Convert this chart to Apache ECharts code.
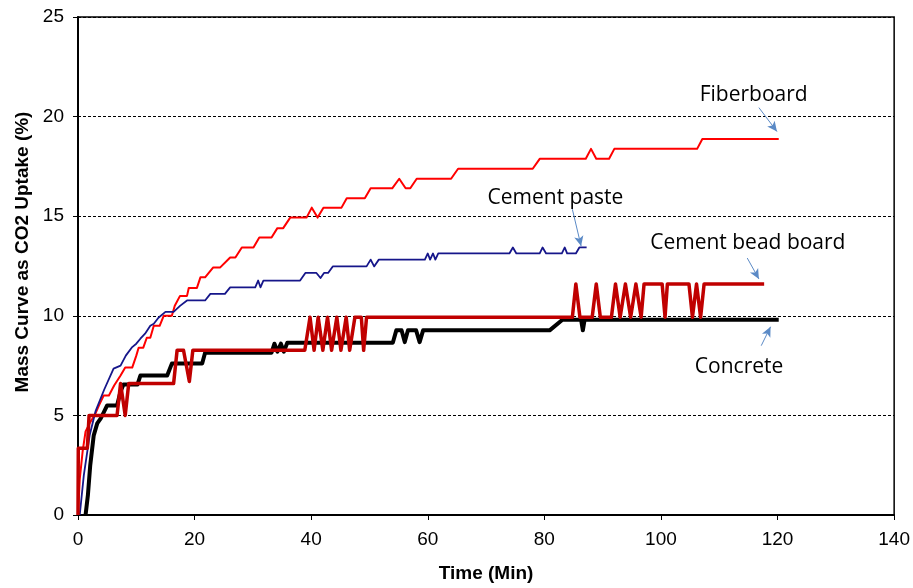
<!DOCTYPE html>
<html>
<head>
<meta charset="utf-8">
<script src="https://cdn.jsdelivr.net/npm/echarts@6/dist/echarts.min.js"></script>
<style>
  html, body { margin: 0; padding: 0; background: #fff; }
  #chart { width: 913px; height: 588px; }
</style>
</head>
<body>
<div id="chart"></div>
<script>
// [time (min), mass uptake (%)]
const fiberboard = [
  [0, 0], [0.3, 1.8], [0.8, 3.2], [1.3, 4.2], [2.0, 4.6], [3.0, 5.1], [3.6, 5.5], [4.4, 6.0], [5.3, 6.0],
  [6.2, 6.5], [7.3, 7.0], [8.1, 7.4], [9.3, 7.4], [10.0, 8.0], [10.4, 8.4], [11.2, 8.4], [11.8, 8.9],
  [12.4, 8.9], [13.0, 9.5], [14.0, 9.5], [14.7, 10.0], [16.1, 10.0], [16.6, 10.5], [17.5, 11.0],
  [18.7, 11.0], [19.0, 11.4], [20.4, 11.4], [21.0, 11.93], [21.8, 11.93], [23.2, 12.43], [24.4, 12.43],
  [26.1, 12.93], [27.0, 12.93], [28.1, 13.43], [30.1, 13.43], [31.1, 13.93], [33.2, 13.93], [34.2, 14.4],
  [35.2, 14.4], [36.4, 14.93], [39.2, 14.93], [40.1, 15.43], [41.1, 14.93], [42.1, 15.43], [45.2, 15.43],
  [46.1, 15.9], [49.2, 15.9], [50.2, 16.4], [53.9, 16.4], [55.1, 16.88], [56.2, 16.4], [57.0, 16.4],
  [58.1, 16.88], [64.0, 16.88], [65.2, 17.38], [78.0, 17.38], [79.2, 17.88], [87.1, 17.88], [88.0, 18.38],
  [88.9, 17.88], [91.1, 17.88], [92.0, 18.38], [106.2, 18.38], [107.1, 18.88], [120.2, 18.88]
];
const cementPaste = [
  [0.3, 0], [1.0, 2.0], [2.0, 4.0], [3.0, 5.2], [4.5, 6.3], [6.1, 7.35], [7.3, 7.5], [8.2, 8.0], [9.3, 8.43],
  [10.0, 8.6], [10.7, 8.85], [11.5, 9.1], [12.4, 9.5], [13.0, 9.6], [13.8, 9.9], [15.0, 10.2], [16.4, 10.2],
  [17.5, 10.5], [18.7, 10.77], [21.8, 10.77], [22.7, 11.1], [25.2, 11.1], [26.1, 11.43], [30.4, 11.43],
  [30.9, 11.77], [31.3, 11.43], [31.8, 11.77], [38.1, 11.77], [39.0, 12.15], [40.9, 12.15], [41.6, 11.9],
  [42.2, 12.15], [42.9, 12.15], [43.7, 12.48], [49.5, 12.48], [50.2, 12.82], [50.8, 12.48], [51.6, 12.82],
  [59.5, 12.82], [60.0, 13.13], [60.4, 12.82], [60.9, 13.13], [61.3, 12.82], [61.8, 13.13], [74.0, 13.13],
  [74.6, 13.43], [75.2, 13.13], [79.2, 13.13], [79.7, 13.43], [80.3, 13.13], [83.0, 13.13], [83.5, 13.43],
  [83.9, 13.13], [85.4, 13.13], [86.0, 13.43], [87.25, 13.43]
];
const cementBeadBoard = [
  [0, 0], [0.05, 3.35], [1.6, 3.35], [1.9, 5.0], [6.7, 5.0], [7.3, 6.6], [8.1, 5.0], [8.7, 6.6], [16.4, 6.6],
  [17.0, 8.27], [18.1, 8.27], [19.1, 6.7], [19.7, 8.27], [38.9, 8.27], [39.8, 9.93], [40.5, 8.27],
  [41.2, 9.93], [42.0, 8.27], [42.8, 9.93], [43.5, 8.27], [44.4, 9.93], [45.1, 8.27], [46.0, 9.93],
  [46.6, 8.27], [47.5, 9.93], [48.6, 9.93], [49.0, 8.27], [49.5, 9.93], [84.8, 9.93], [85.4, 11.6],
  [86.1, 9.93], [88.2, 9.93], [88.9, 11.6], [89.6, 9.93], [91.5, 9.93], [92.2, 11.6], [93.0, 9.93],
  [93.9, 11.6], [94.8, 9.93], [95.7, 11.6], [96.6, 9.93], [97.1, 11.6], [100.2, 11.6], [100.7, 9.93],
  [101.1, 11.6], [104.8, 11.6], [105.4, 9.93], [106.1, 11.6], [106.8, 9.93], [107.4, 11.6], [117.7, 11.6]
];
const concrete = [
  [1.3, 0], [1.7, 1.0], [2.1, 2.5], [2.7, 4.0], [3.3, 4.6], [3.9, 4.85], [4.5, 5.2], [5.0, 5.5], [6.7, 5.5],
  [7.3, 6.2], [7.8, 6.55], [10.2, 6.55], [10.7, 7.0], [15.3, 7.0], [16.1, 7.6], [21.3, 7.6], [21.8, 8.15],
  [33.2, 8.15], [33.7, 8.6], [34.2, 8.2], [34.8, 8.6], [35.3, 8.2], [35.9, 8.65], [54.0, 8.65], [54.6, 9.27],
  [55.5, 9.27], [56.05, 8.68], [56.6, 9.27], [58.0, 9.27], [58.6, 8.68], [59.2, 9.27], [80.9, 9.27],
  [83.1, 9.8], [86.3, 9.8], [86.6, 9.27], [86.9, 9.8], [120.2, 9.8]
];

// annotation text + arrows, in data coordinates
const labelNames = ['Fiberboard', 'Cement paste', 'Cement bead board', 'Concrete'];
const labelAt = [[115.9, 21.1], [81.9, 15.9], [114.9, 13.65], [113.4, 7.45]];
const arrowFrom = [[116.8, 20.45], [84.8, 15.35], [114.8, 12.9], [117.2, 8.5]];
const arrowTo = [[119.9, 19.25], [86.3, 13.5], [116.8, 11.85], [118.8, 9.45]];

const chart = echarts.init(document.getElementById('chart'));

const tickFont = { fontFamily: 'Liberation Sans, Arial, sans-serif', fontSize: 19, color: '#000' };
const nameFont = {
  fontFamily: "'Liberation Sans', Arial, sans-serif",
  fontSize: 19, fontWeight: 'bold', color: '#000'
};

function line(name, data, color, width, z) {
  return {
    name: name,
    type: 'line',
    data: data,
    showSymbol: false,
    symbol: 'none',
    z: z,
    lineStyle: { color: color, width: width, join: 'round' },
    animation: false
  };
}

const series = [
  line('Fiberboard', fiberboard, '#ff0000', 2, 2),
  line('Cement paste', cementPaste, '#16168a', 1.8, 3),
  line('Concrete', concrete, '#000000', 4, 4),
  line('Cement bead board', cementBeadBoard, '#c00000', 3.5, 5)
];

series[0].markPoint = {
  silent: true,
  symbol: 'circle',
  symbolSize: 1,
  itemStyle: { color: 'rgba(0,0,0,0)' },
  label: {
    show: true,
    position: 'inside',
    formatter: '{b}',
    fontFamily: "'Open Sans', sans-serif",
    fontSize: 21,
    color: '#000'
  },
  data: labelNames.map((n, i) => ({ name: n, coord: labelAt[i] }))
};
series[0].markLine = {
  silent: true,
  symbol: ['none', 'arrow'],
  symbolSize: [7, 10],
  label: { show: false },
  lineStyle: { color: '#5b8ac6', width: 1, type: 'solid' },
  data: arrowFrom.map((p, i) => [{ coord: p }, { coord: arrowTo[i] }])
};

chart.setOption({
  animation: false,
  backgroundColor: '#fff',
  grid: {
    left: 78, right: 18, top: 17, bottom: 71,
    show: true, borderColor: '#000', borderWidth: 1.5
  },
  xAxis: {
    type: 'value',
    min: 0, max: 140, interval: 20,
    name: 'Time (Min)',
    nameLocation: 'middle',
    nameGap: 49,
    nameTextStyle: nameFont,
    axisLine: { show: true, onZero: false, lineStyle: { color: '#000', width: 2 } },
    axisTick: { show: true, length: 5, lineStyle: { color: '#000' } },
    axisLabel: Object.assign({ margin: 15 }, tickFont),
    splitLine: { show: false }
  },
  yAxis: {
    type: 'value',
    min: 0, max: 25, interval: 5,
    name: 'Mass Curve as CO2 Uptake (%)',
    nameLocation: 'middle',
    nameGap: 42,
    nameTextStyle: Object.assign({ padding: [0, 0, 0, 28] }, nameFont),
    axisLine: { show: true, lineStyle: { color: '#000', width: 2 } },
    axisTick: { show: true, length: 5, lineStyle: { color: '#000' } },
    axisLabel: Object.assign({ margin: 14 }, tickFont),
    splitLine: { show: true, lineStyle: { color: '#000', width: 1, type: [3, 2] } }
  },
  series: series
});
</script>
</body>
</html>
